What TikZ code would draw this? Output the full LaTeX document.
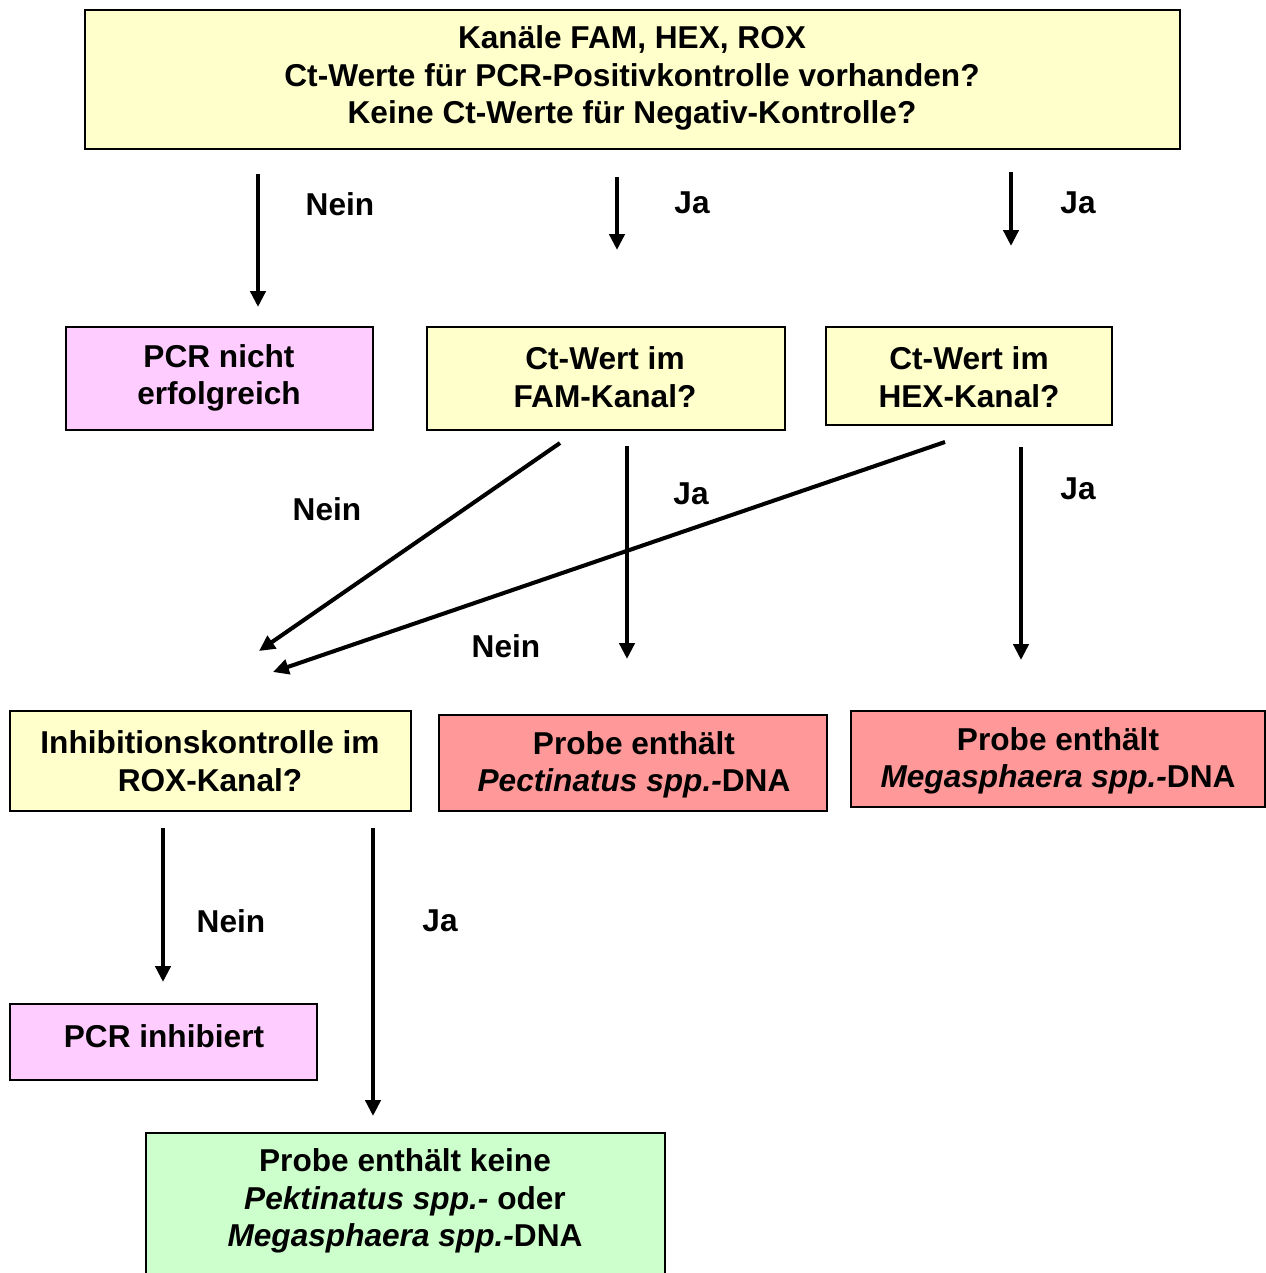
\documentclass[tikz,border=0pt]{standalone}
\usepackage{fontspec}
\setmainfont{Liberation Sans}
\usetikzlibrary{arrows.meta}
\definecolor{cyel}{HTML}{FFFFCC}
\definecolor{cpink}{HTML}{FFCCFF}
\definecolor{cred}{HTML}{FF9999}
\definecolor{cgreen}{HTML}{CCFFCC}
\begin{document}
\begin{tikzpicture}[x=0.02cm,y=-0.02cm,
  boxr/.style={draw=black,line width=1.1pt,rectangle,inner sep=0pt},
  txt/.style={font=\fontsize{18}{21.3}\selectfont\bfseries,align=center,inner sep=0pt},
  lbl/.style={font=\fontsize{18}{20}\selectfont\bfseries,inner sep=0pt},
  arr/.style={line width=2.3pt,-{Triangle[length=9pt,width=8.5pt]}}]
\useasboundingbox[fill=white] (0,0) rectangle (1266,1273);
% boxes
\fill[cyel] (85,10) rectangle (1180,149);
\draw[boxr] (85,10) rectangle (1180,149);
\node[txt] (t0) at (632,78) {Kanäle FAM, HEX, ROX\\Ct-Werte für PCR-Positivkontrolle vorhanden?\\Keine Ct-Werte für Negativ-Kontrolle?};
\fill[cpink] (66,327) rectangle (373,430);
\draw[boxr] (66,327) rectangle (373,430);
\node[txt] (t1) at (219,378) {PCR nicht\\erfolgreich};
\fill[cyel] (427,327) rectangle (785,430);
\draw[boxr] (427,327) rectangle (785,430);
\node[txt] (t2) at (605,377) {Ct-Wert im\\FAM-Kanal?};
\fill[cyel] (826,327) rectangle (1112,425);
\draw[boxr] (826,327) rectangle (1112,425);
\node[txt] (t3) at (969,377) {Ct-Wert im\\HEX-Kanal?};
\fill[cyel] (10,711) rectangle (411,811);
\draw[boxr] (10,711) rectangle (411,811);
\node[txt] (t4) at (210,761) {Inhibitionskontrolle im\\ROX-Kanal?};
\fill[cred] (439,715) rectangle (827,811);
\draw[boxr] (439,715) rectangle (827,811);
\node[txt] (t5) at (634,765) {Probe enthält\\\textit{Pectinatus spp.-}DNA};
\fill[cred] (851,711) rectangle (1265,807);
\draw[boxr] (851,711) rectangle (1265,807);
\node[txt] (t6) at (1058,761) {Probe enthält\\\textit{Megasphaera spp.-}DNA};
\fill[cpink] (10,1004) rectangle (317,1080);
\draw[boxr] (10,1004) rectangle (317,1080);
\node[txt] (t7) at (164,1036) {PCR inhibiert};
\fill[cgreen] (146,1133) rectangle (665,1300);
\draw[boxr] (146,1133) rectangle (665,1300);
\node[txt] (t8) at (405,1201) {Probe enthält keine\\\textit{Pektinatus spp.-} oder\\\textit{Megasphaera spp.-}DNA};
% arrow endpoints
\coordinate (a1s) at (258,174); \coordinate (a1e) at (258,307);
\coordinate (a2s) at (617,177); \coordinate (a2e) at (617,250);
\coordinate (a3s) at (1011,172); \coordinate (a3e) at (1011,246);
\coordinate (a4s) at (560,443); \coordinate (a4e) at (259,651);
\coordinate (a5s) at (627,446); \coordinate (a5e) at (627,659);
\coordinate (a6s) at (945,442); \coordinate (a6e) at (273,672);
\coordinate (a7s) at (1021,447); \coordinate (a7e) at (1021,660);
\coordinate (a8s) at (163,828); \coordinate (a8e) at (163,982);
\coordinate (a9s) at (373,828); \coordinate (a9e) at (373,1116);
\draw[arr] (a1s) -- (a1e);
\draw[arr] (a2s) -- (a2e);
\draw[arr] (a3s) -- (a3e);
\draw[arr] (a4s) -- (a4e);
\draw[arr] (a5s) -- (a5e);
\draw[arr] (a6s) -- (a6e);
\draw[arr] (a7s) -- (a7e);
\draw[arr] (a8s) -- (a8e);
\draw[arr] (a9s) -- (a9e);
% labels
\node[lbl] (l1) at (340,204) {Nein};
\node[lbl] (l2) at (692,203) {Ja};
\node[lbl] (l3) at (1078,203) {Ja};
\node[lbl] (l4) at (327,509) {Nein};
\node[lbl] (l5) at (691,494) {Ja};
\node[lbl] (l6) at (506,646) {Nein};
\node[lbl] (l7) at (1078,489) {Ja};
\node[lbl] (l8) at (231,921) {Nein};
\node[lbl] (l9) at (440,921) {Ja};
\end{tikzpicture}
\end{document}
